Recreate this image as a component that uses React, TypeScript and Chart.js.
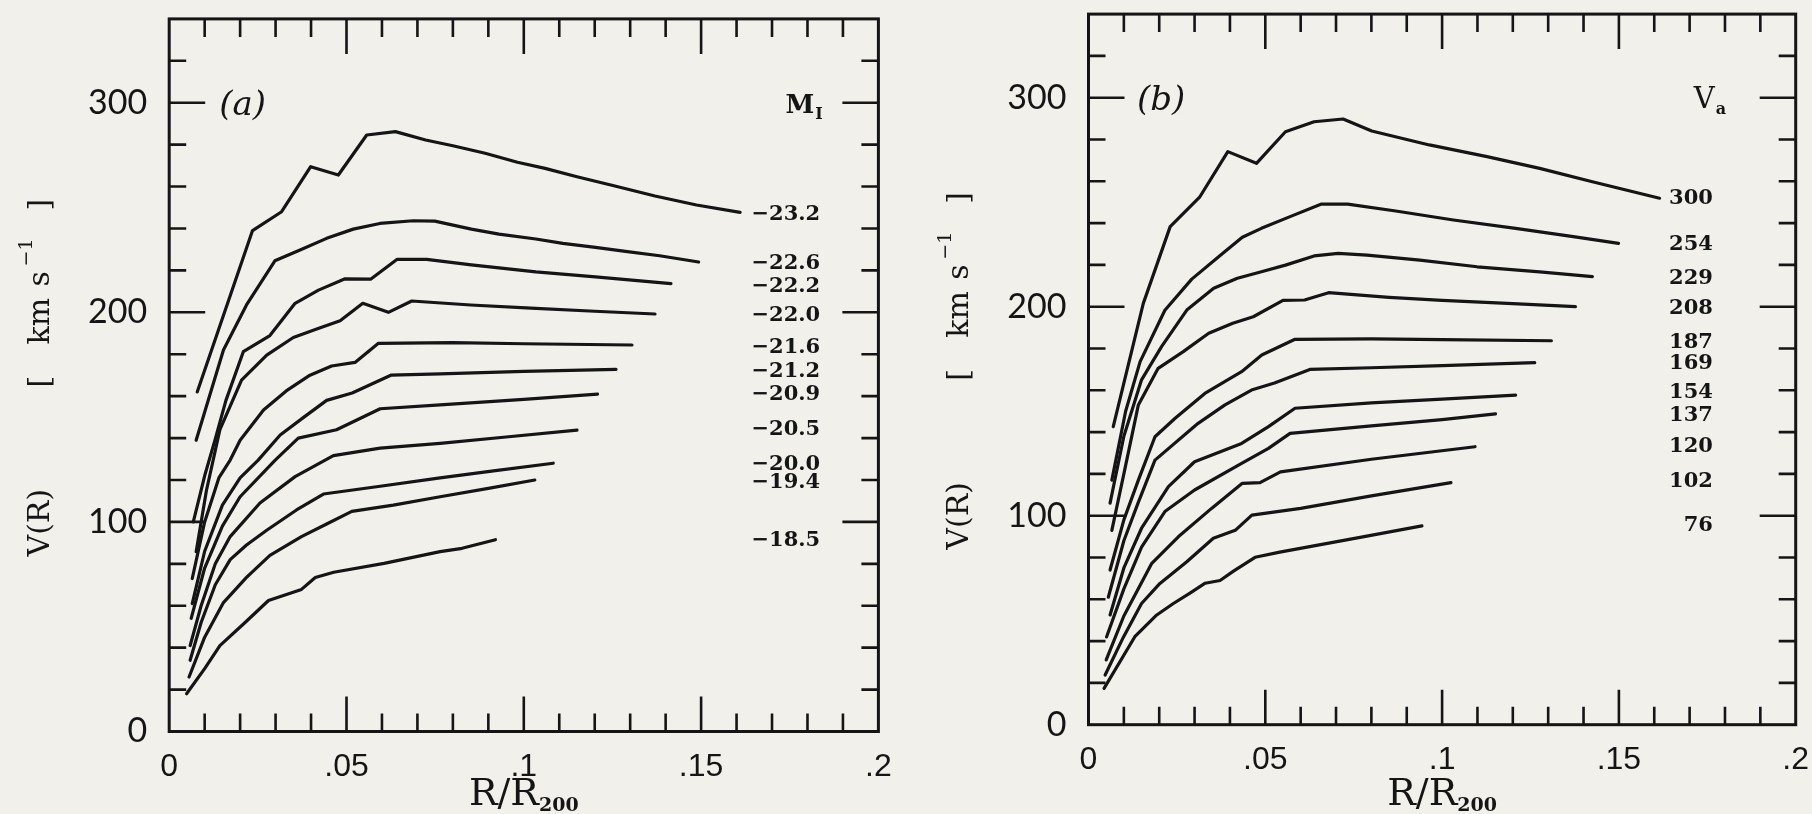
import React, { useEffect, useRef } from 'react';
import { Chart, registerables } from 'chart.js';

Chart.register(...registerables);

const INK = '#151515';
const PAPER = '#f2f0ea';

// ---------- axes ----------
const xTickValues = [0, 0.05, 0.1, 0.15, 0.2];
const xTickLabels = ['0', '.05', '.1', '.15', '.2'];
const yTickValues = [0, 100, 200, 300];
const yTickLabels = ['0', '100', '200', '300'];

// ---------- panel (a): binned by M_I ----------
const magLabels = ['−23.2', '−22.6', '−22.2', '−22.0', '−21.6', '−21.2', '−20.9', '−20.5', '−20.0', '−19.4', '−18.5'];
const magLabelY = [247.6, 224.1, 213.2, 199.3, 184.4, 172.9, 161.7, 145, 128.4, 119.7, 92.2];

const mag232 = [[0.0079, 162], [0.0235, 239], [0.0317, 248], [0.0399, 269.5], [0.0477, 265.5], [0.0557, 284.6], [0.0638, 286.2], [0.0723, 282.2], [0.080, 279.5], [0.0891, 275.9], [0.0982, 271.6], [0.106, 268.7], [0.115, 264.7], [0.1254, 260.4], [0.137, 255.5], [0.1487, 251.2], [0.161, 247.7]];
const mag226 = [[0.0076, 139], [0.0153, 182], [0.0218, 203.5], [0.0298, 224.6], [0.0369, 229.7], [0.0444, 235.3], [0.0519, 239.7], [0.0594, 242.4], [0.0688, 243.7], [0.0749, 243.5], [0.0852, 239.7], [0.093, 237.3], [0.1034, 235], [0.111, 232.9], [0.1202, 231], [0.1292, 229], [0.1383, 227], [0.1493, 224]];
const mag222 = [[0.0068, 100], [0.0100, 122], [0.0129, 139], [0.0160, 158], [0.0209, 181.2], [0.0284, 188.9], [0.0355, 204.3], [0.0421, 210.6], [0.0496, 216], [0.0568, 215.8], [0.0643, 225.3], [0.0726, 225.3], [0.0852, 222.6], [0.1034, 219.3], [0.1202, 216.9], [0.1415, 213.7]];
const mag220 = [[0.0076, 85.8], [0.0105, 115], [0.0143, 144], [0.0204, 167.7], [0.0275, 179.6], [0.035, 188], [0.0416, 192], [0.0482, 196], [0.0546, 204.3], [0.0618, 200], [0.0684, 205.4], [0.085, 203.5], [0.102, 202], [0.12, 200.5], [0.137, 199.2]];
const mag216 = [[0.0065, 73], [0.0100, 100], [0.0140, 121], [0.0172, 129.5], [0.0200, 139], [0.0266, 153.4], [0.0330, 162.5], [0.0397, 170], [0.0458, 174.4], [0.0524, 176.1], [0.0590, 185.2], [0.08, 185.5], [0.1, 185], [0.1305, 184.4]];
const mag212 = [[0.0065, 61], [0.0100, 86], [0.0150, 108], [0.0200, 121], [0.0251, 129.5], [0.0313, 141.5], [0.0380, 150], [0.0444, 158], [0.0516, 161.5], [0.0625, 170], [0.0764, 170.6], [0.1, 171.8], [0.126, 172.8]];
const mag209 = [[0.0062, 54], [0.0100, 78], [0.0150, 98], [0.0200, 112], [0.0299, 129.5], [0.0364, 140], [0.0472, 144], [0.0595, 154], [0.0764, 155.8], [0.1, 158.5], [0.1208, 161]];
const mag205 = [[0.0059, 41], [0.0090, 60], [0.0130, 80], [0.0172, 93], [0.0256, 109], [0.0355, 121.6], [0.0463, 131.6], [0.0595, 135.2], [0.0764, 137.5], [0.095, 140.5], [0.115, 143.8]];
const mag200 = [[0.0059, 34], [0.0090, 52], [0.0130, 70], [0.0172, 82], [0.0218, 89], [0.0275, 96], [0.0359, 105.7], [0.0435, 113.3], [0.0595, 117], [0.0764, 121], [0.092, 124.5], [0.1083, 128]];
const mag194 = [[0.0056, 26], [0.0100, 45], [0.0153, 61.5], [0.0218, 73.5], [0.0284, 84], [0.0373, 93], [0.0444, 99], [0.0515, 105], [0.0632, 108], [0.0764, 112], [0.09, 116], [0.1031, 120]];
const mag185 = [[0.0049, 18], [0.0100, 30], [0.0143, 41], [0.0214, 52], [0.028, 62.5], [0.0373, 67.8], [0.0412, 73.5], [0.0464, 76], [0.0606, 80.2], [0.0764, 85.8], [0.0826, 87.4], [0.092, 91.5]];
const panelACurves = [mag232, mag226, mag222, mag220, mag216, mag212, mag209, mag205, mag200, mag194, mag185];

// ---------- panel (b): binned by V_a ----------
const vaLabels = ['300', '254', '229', '208', '187', '169', '154', '137', '120', '102', '76'];
const vaLabelY = [252.5, 230.7, 214.3, 200, 184, 173.6, 160, 149, 133.9, 117.2, 96.4];

const va300 = [[0.007, 142.6], [0.0155, 201.6], [0.0231, 238.3], [0.0315, 252.6], [0.0394, 274.2], [0.0475, 268.6], [0.0557, 283.7], [0.0638, 288.5], [0.072, 289.8], [0.0801, 284.1], [0.0964, 277.4], [0.1127, 271.8], [0.1276, 266.2], [0.1425, 259.8], [0.1615, 251.9]];
const va254 = [[0.0066, 117], [0.0105, 150], [0.0146, 173.7], [0.0216, 198.3], [0.0292, 213.2], [0.0374, 224.7], [0.0435, 233.2], [0.0489, 237.5], [0.057, 243.1], [0.0659, 249.1], [0.0733, 249.1], [0.0869, 245.8], [0.1032, 241.5], [0.1208, 237.5], [0.1371, 233.5], [0.1499, 230.3]];
const va229 = [[0.0061, 106], [0.0100, 138], [0.0150, 165], [0.0207, 181], [0.0278, 198.4], [0.0354, 208.8], [0.0421, 213.6], [0.0489, 216.7], [0.0557, 219.9], [0.0638, 224.3], [0.0706, 225.5], [0.0788, 224.7], [0.0937, 222.3], [0.1099, 219.1], [0.1276, 216.7], [0.1425, 214.4]];
const va208 = [[0.0066, 93], [0.0100, 120], [0.0141, 153], [0.0197, 170.5], [0.0268, 178.5], [0.034, 187.3], [0.0408, 192.1], [0.0466, 195.2], [0.055, 203], [0.0611, 203.2], [0.0679, 206.7], [0.085, 204.5], [0.1, 203], [0.12, 201.5], [0.1377, 200]];
const va187 = [[0.0061, 74], [0.0100, 98], [0.0141, 117], [0.0188, 137.8], [0.0245, 146.6], [0.0329, 158.5], [0.0433, 168.9], [0.049, 176.9], [0.0584, 184.4], [0.08, 184.6], [0.1, 184.2], [0.1309, 183.7]];
const va169 = [[0.0056, 61], [0.0100, 88], [0.0140, 106], [0.0188, 126.6], [0.031, 144.2], [0.0386, 153], [0.0461, 160.1], [0.0526, 163.5], [0.0626, 170], [0.08, 170.8], [0.1, 171.8], [0.1262, 173.2]];
const va154 = [[0.0061, 52.5], [0.0100, 75], [0.0150, 94], [0.0226, 113.9], [0.03, 125.8], [0.0433, 134.6], [0.0509, 142.6], [0.0584, 151.4], [0.08, 154], [0.1, 155.8], [0.1208, 157.7]];
const va137 = [[0.0051, 42], [0.0100, 65], [0.0150, 85], [0.0216, 102], [0.0300, 112.3], [0.0433, 125], [0.0509, 132.2], [0.0570, 139.4], [0.08, 143], [0.1, 146], [0.1151, 148.7]];
const va120 = [[0.005, 31], [0.0100, 52], [0.0179, 77.2], [0.0254, 89.9], [0.0348, 103.5], [0.0435, 115.5], [0.0485, 115.8], [0.0543, 121], [0.08, 127], [0.1093, 133]];
const va102 = [[0.0047, 23.8], [0.0099, 42], [0.015, 58], [0.0202, 67.6], [0.0278, 78], [0.0353, 89.2], [0.0415, 93], [0.0462, 100.3], [0.06, 103.5], [0.08, 109.5], [0.1025, 115.8]];
const va76 = [[0.0044, 17.4], [0.0131, 42.1], [0.0193, 52.5], [0.0240, 58], [0.0287, 63], [0.0330, 67.7], [0.0372, 69], [0.0410, 73.5], [0.0471, 80.1], [0.0541, 82.6], [0.0768, 89.6], [0.0943, 95.1]];
const panelBCurves = [va300, va254, va229, va208, va187, va169, va154, va137, va120, va102, va76];

const W = 906;
const H = 814;

type PanelCfg = {
  curves: number[][][];
  labels: string[];
  labelY: number[];
  labelX: number;
  labelAlign: CanvasTextAlign;
  tag: string;
  tagX: number;
  keyMain: string;
  keySub: string;
  keyX: number;
  keyBold: boolean;
  area: { left: number; right: number; top: number; bottom: number };
};

const panelA: PanelCfg = {
  curves: panelACurves,
  labels: magLabels,
  labelY: magLabelY,
  labelX: 0.1642,
  labelAlign: 'left',
  tag: '(a)',
  tagX: 0.0141,
  keyMain: 'M',
  keySub: 'I',
  keyX: 0.1738,
  keyBold: true,
  area: { left: 169.2, right: 878.4, top: 18.9, bottom: 731.5 },
};

const panelB: PanelCfg = {
  curves: panelBCurves,
  labels: vaLabels,
  labelY: vaLabelY,
  labelX: 0.1766,
  labelAlign: 'right',
  tag: '(b)',
  tagX: 0.0137,
  keyMain: 'V',
  keySub: 'a',
  keyX: 0.1712,
  keyBold: false,
  area: { left: 182.5, right: 889.7, top: 14.1, bottom: 724.7 },
};

function makeDecor(cfg: PanelCfg) {
  return {
    id: 'decor',
    afterDraw(chart: any) {
      const { ctx, chartArea: a, scales } = chart;
      const x = scales.x;
      const y = scales.y;
      ctx.save();
      ctx.strokeStyle = INK;
      ctx.fillStyle = INK;
      // inward tick marks on all four sides
      ctx.lineWidth = 2.6;
      ctx.lineCap = 'butt';
      ctx.beginPath();
      for (let i = 1; i < 20; i++) {
        const px = x.getPixelForValue(i * 0.01);
        const len = i % 5 === 0 ? 35 : 18;
        ctx.moveTo(px, a.bottom);
        ctx.lineTo(px, a.bottom - len);
        ctx.moveTo(px, a.top);
        ctx.lineTo(px, a.top + len);
      }
      for (let v = 20; v < 340; v += 20) {
        const py = y.getPixelForValue(v);
        const len = v % 100 === 0 ? 36 : 17;
        ctx.moveTo(a.left, py);
        ctx.lineTo(a.left + len, py);
        ctx.moveTo(a.right, py);
        ctx.lineTo(a.right - len, py);
      }
      ctx.stroke();
      // frame
      ctx.lineWidth = 3;
      ctx.strokeRect(a.left, a.top, a.right - a.left, a.bottom - a.top);

      // curve labels
      ctx.font = 'bold 21px "DejaVu Serif"';
      ctx.textAlign = cfg.labelAlign;
      ctx.textBaseline = 'alphabetic';
      const lx = x.getPixelForValue(cfg.labelX);
      cfg.labels.forEach((t, i) => {
        ctx.fillText(t, lx, y.getPixelForValue(cfg.labelY[i]) + 7.5);
      });

      // panel tag
      ctx.textAlign = 'left';
      ctx.font = 'italic 34px "DejaVu Serif"';
      ctx.fillText(cfg.tag, x.getPixelForValue(cfg.tagX), y.getPixelForValue(300) + 12);

      // key symbol
      const kx = x.getPixelForValue(cfg.keyX);
      const ky = y.getPixelForValue(300) + 10;
      ctx.font = (cfg.keyBold ? 'bold 26px' : '29px') + ' "DejaVu Serif"';
      ctx.fillText(cfg.keyMain, kx, ky);
      const mw = ctx.measureText(cfg.keyMain).width;
      ctx.font = 'bold 16px "DejaVu Serif"';
      ctx.fillText(cfg.keySub, kx + mw + 1, ky + 6);

      // x axis title R/R200
      const cx = (a.left + a.right) / 2;
      ctx.font = '38px "DejaVu Serif"';
      const main = 'R/R';
      const w1 = ctx.measureText(main).width;
      ctx.font = 'bold 19px "DejaVu Serif"';
      const w2 = ctx.measureText('200').width;
      const sx = cx - (w1 + w2) / 2;
      ctx.font = '38px "DejaVu Serif"';
      ctx.fillText(main, sx, 805);
      ctx.font = 'bold 19px "DejaVu Serif"';
      ctx.fillText('200', sx + w1, 811);

      // y axis title (rotated)
      ctx.save();
      ctx.translate(a.left - 128, a.bottom - 175);
      ctx.rotate(-Math.PI / 2);
      ctx.textBaseline = 'middle';
      ctx.font = '30px "DejaVu Serif"';
      ctx.fillText('V(R)', 0, 0);
      ctx.fillText('[', 169, 0);
      ctx.fillText('km', 212, 0);
      ctx.fillText('s', 270, 0);
      ctx.fillText(']', 346, 0);
      ctx.font = '19px "DejaVu Serif"';
      ctx.fillText('−1', 290, -14);
      ctx.restore();

      ctx.restore();
    },
  };
}

function Panel({ cfg, left }: { cfg: PanelCfg; left: number }) {
  const ref = useRef<HTMLCanvasElement | null>(null);
  useEffect(() => {
    if (!ref.current) return;
    const ar = cfg.area;
    const chart = new Chart(ref.current, {
      type: 'line',
      data: {
        datasets: cfg.curves.map((c) => ({
          data: c.map(([vx, vy]) => ({ x: vx, y: vy })),
          borderColor: INK,
          borderWidth: 3.2,
          pointRadius: 0,
          fill: false,
          tension: 0,
          borderCapStyle: 'round',
          borderJoinStyle: 'round',
        })),
      },
      options: {
        responsive: false,
        animation: false,
        devicePixelRatio: 1,
        layout: { padding: { top: ar.top, right: W - ar.right, left: 0, bottom: 0 } },
        plugins: { legend: { display: false }, tooltip: { enabled: false }, title: { display: false } },
        scales: {
          x: {
            type: 'linear',
            position: 'bottom',
            min: 0,
            max: 0.2,
            grid: { display: false, drawTicks: false },
            border: { display: false },
            afterBuildTicks: (s: any) => {
              s.ticks = xTickValues.map((value) => ({ value }));
            },
            afterFit: (s: any) => {
              s.height = H - ar.bottom;
              s.paddingLeft = 0;
              s.paddingRight = 0;
            },
            ticks: {
              autoSkip: false,
              maxRotation: 0,
              padding: 16,
              color: INK,
              font: { family: '"Liberation Sans", Arial, sans-serif', size: 32 },
              callback: (_v: any, i: number) => xTickLabels[i],
            },
          },
          y: {
            type: 'linear',
            min: 0,
            max: 340,
            grid: { display: false, drawTicks: false },
            border: { display: false },
            afterBuildTicks: (s: any) => {
              s.ticks = yTickValues.map((value) => ({ value }));
            },
            afterFit: (s: any) => {
              s.width = ar.left;
              s.paddingTop = 0;
              s.paddingBottom = 0;
            },
            ticks: {
              autoSkip: false,
              padding: 22,
              color: INK,
              font: { family: 'Lato, "DejaVu Sans", sans-serif', size: 34 },
              callback: (_v: any, i: number) => yTickLabels[i],
            },
          },
        },
      },
      plugins: [makeDecor(cfg)],
    } as any);
    return () => chart.destroy();
  }, [cfg]);
  return (
    <canvas
      ref={ref}
      width={W}
      height={H}
      style={{ position: 'absolute', left, top: 0, width: W, height: H }}
    />
  );
}

export default function App() {
  useEffect(() => {
    document.body.style.margin = '0';
    document.body.style.background = PAPER;
  }, []);
  return (
    <div
      style={{
        position: 'fixed',
        left: 0,
        top: 0,
        width: 1812,
        height: 814,
        background: PAPER,
        overflow: 'hidden',
      }}
    >
      <Panel cfg={panelA} left={0} />
      <Panel cfg={panelB} left={906} />
    </div>
  );
}
